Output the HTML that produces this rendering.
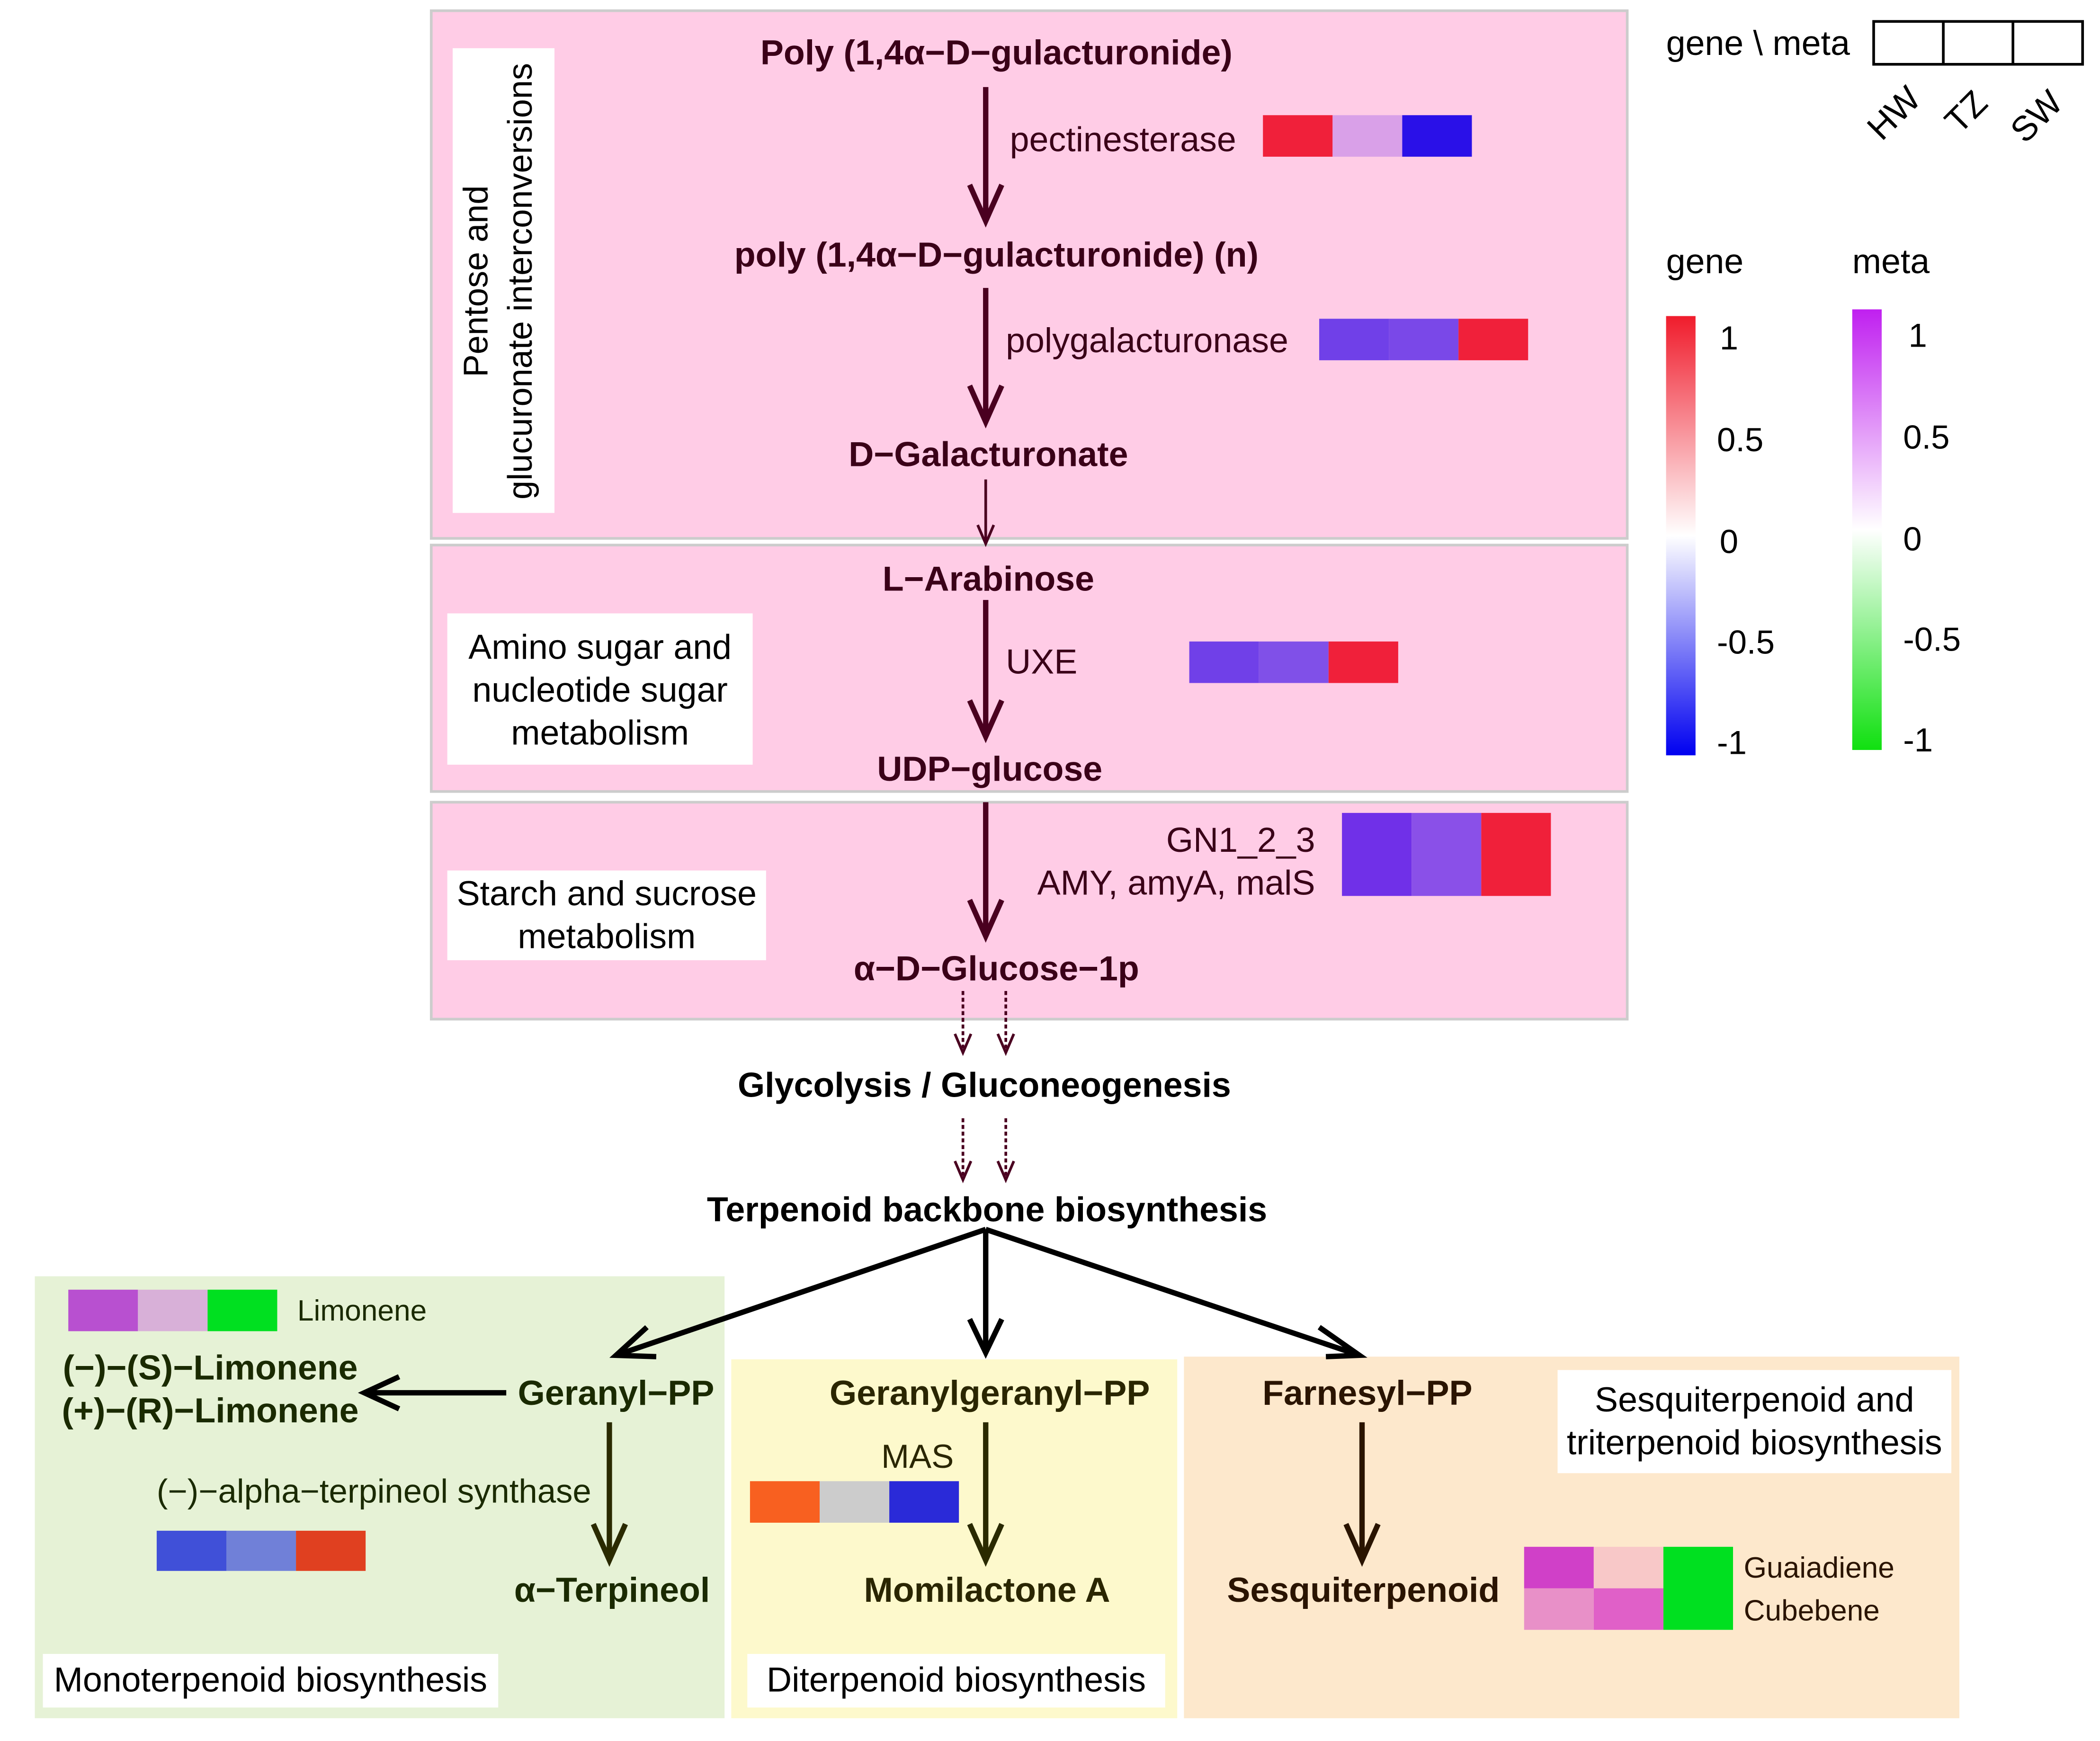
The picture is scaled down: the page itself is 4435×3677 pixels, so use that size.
<!DOCTYPE html>
<html><head><meta charset="utf-8"><style>
html,body{margin:0;padding:0;background:#fff;}
svg{display:block;}
text{font-family:"Liberation Sans",Arial,sans-serif;}
</style></head><body>
<svg width="4435" height="3677" viewBox="0 0 1568 1300" xmlns="http://www.w3.org/2000/svg">
<defs>
<linearGradient id="gg" x1="0" y1="0" x2="0" y2="1">
<stop offset="0" stop-color="#f01c2c"/><stop offset="0.5" stop-color="#ffffff"/><stop offset="1" stop-color="#0000f0"/></linearGradient>
<linearGradient id="mg" x1="0" y1="0" x2="0" y2="1">
<stop offset="0" stop-color="#c020f0"/><stop offset="0.5" stop-color="#ffffff"/><stop offset="1" stop-color="#10e010"/></linearGradient>
</defs>
<rect x="322" y="8" width="893" height="394" fill="#ffcce6" stroke="#cccccc" stroke-width="2"/>
<rect x="322" y="407" width="893" height="184" fill="#ffcce6" stroke="#cccccc" stroke-width="2"/>
<rect x="322" y="599" width="893" height="162" fill="#ffcce6" stroke="#cccccc" stroke-width="2"/>
<rect x="26" y="953" width="515" height="330" fill="#e6f2d6"/>
<rect x="546" y="1015" width="333" height="268" fill="#fdf9cc"/>
<rect x="884" y="1013" width="579" height="270" fill="#fde8cc"/>
<rect x="338" y="36" width="76" height="347" fill="#fff"/>
<text transform="translate(364,210) rotate(-90)" text-anchor="middle" font-size="25.5">Pentose and</text>
<text transform="translate(397,210) rotate(-90)" text-anchor="middle" font-size="25.5">glucuronate interconversions</text>
<rect x="334" y="458" width="228" height="113" fill="#fff"/>
<text x="448" y="492" text-anchor="middle" font-size="26">Amino sugar and</text>
<text x="448" y="524" text-anchor="middle" font-size="26">nucleotide sugar</text>
<text x="448" y="556" text-anchor="middle" font-size="26">metabolism</text>
<rect x="334" y="650" width="238" height="67" fill="#fff"/>
<text x="453" y="676" text-anchor="middle" font-size="26">Starch and sucrose</text>
<text x="453" y="708" text-anchor="middle" font-size="26">metabolism</text>
<rect x="32" y="1235" width="340" height="40" fill="#fff"/>
<text x="202" y="1263" text-anchor="middle" font-size="26">Monoterpenoid biosynthesis</text>
<rect x="558" y="1235" width="312" height="40" fill="#fff"/>
<text x="714" y="1263" text-anchor="middle" font-size="26">Diterpenoid biosynthesis</text>
<rect x="1163" y="1023" width="294" height="77" fill="#fff"/>
<text x="1310" y="1054" text-anchor="middle" font-size="26">Sesquiterpenoid and</text>
<text x="1310" y="1086" text-anchor="middle" font-size="26">triterpenoid biosynthesis</text>
<g font-weight="bold" font-size="26" fill="#3a0018" text-anchor="middle">
<text x="744" y="48">Poly (1,4α−D−gulacturonide)</text>
<text x="744" y="199">poly (1,4α−D−gulacturonide) (n)</text>
<text x="738" y="348">D−Galacturonate</text>
<text x="738" y="441">L−Arabinose</text>
<text x="739" y="583">UDP−glucose</text>
<text x="744" y="732">α−D−Glucose−1p</text>
</g>
<g font-weight="bold" font-size="26" fill="#000" text-anchor="middle">
<text x="735" y="819">Glycolysis / Gluconeogenesis</text>
<text x="737" y="912">Terpenoid backbone biosynthesis</text>
</g>
<g font-weight="bold" font-size="26" fill="#1a2a00" text-anchor="middle">
<text x="460" y="1049">Geranyl−PP</text>
<text x="157" y="1030">(−)−(S)−Limonene</text>
<text x="157" y="1062">(+)−(R)−Limonene</text>
<text x="457" y="1196">α−Terpineol</text>
</g>
<g font-weight="bold" font-size="26" fill="#2a2600" text-anchor="middle">
<text x="739" y="1049">Geranylgeranyl−PP</text>
<text x="737" y="1196">Momilactone A</text>
</g>
<g font-weight="bold" font-size="26" fill="#2a1400" text-anchor="middle">
<text x="1021" y="1049">Farnesyl−PP</text>
<text x="1018" y="1196">Sesquiterpenoid</text>
</g>
<g font-size="26" fill="#3a0018">
<text x="754" y="113">pectinesterase</text>
<text x="751" y="263">polygalacturonase</text>
<text x="751" y="503">UXE</text>
<text x="982" y="636" text-anchor="end">GN1_2_3</text>
<text x="982" y="668" text-anchor="end">AMY, amyA, malS</text>
</g>
<text x="222" y="986" font-size="22" fill="#1a2a00">Limonene</text>
<text x="117" y="1122" font-size="25" fill="#1a2a00">(−)−alpha−terpineol synthase</text>
<text x="658" y="1096" font-size="25" fill="#2a2600">MAS</text>
<text x="1302" y="1178" font-size="22" fill="#2a1400">Guaiadiene</text>
<text x="1302" y="1210" font-size="22" fill="#2a1400">Cubebene</text>
<rect x="943" y="86" width="52" height="31" fill="#f0203a"/><rect x="995" y="86" width="52" height="31" fill="#d9a0e8"/><rect x="1047" y="86" width="52" height="31" fill="#2a10e8"/>
<rect x="985" y="238" width="52" height="31" fill="#7040e8"/><rect x="1037" y="238" width="52" height="31" fill="#7a48e8"/><rect x="1089" y="238" width="52" height="31" fill="#f0203a"/>
<rect x="888" y="479" width="52" height="31" fill="#7040e8"/><rect x="940" y="479" width="52" height="31" fill="#8050e8"/><rect x="992" y="479" width="52" height="31" fill="#f0203a"/>
<rect x="1002" y="607" width="52" height="62" fill="#7030e8"/><rect x="1054" y="607" width="52" height="62" fill="#8a50e8"/><rect x="1106" y="607" width="52" height="62" fill="#f0203a"/>
<rect x="51" y="963" width="52" height="31" fill="#b850d0"/><rect x="103" y="963" width="52" height="31" fill="#d8b0d8"/><rect x="155" y="963" width="52" height="31" fill="#00e020"/>
<rect x="117" y="1143" width="52" height="30" fill="#4050d8"/><rect x="169" y="1143" width="52" height="30" fill="#7080d8"/><rect x="221" y="1143" width="52" height="30" fill="#e04020"/>
<rect x="560" y="1106" width="52" height="31" fill="#f86020"/><rect x="612" y="1106" width="52" height="31" fill="#cccccc"/><rect x="664" y="1106" width="52" height="31" fill="#2a2ad8"/>
<rect x="1138" y="1155" width="52" height="31" fill="#d040c8"/><rect x="1190" y="1155" width="52" height="31" fill="#f8c8c8"/><rect x="1242" y="1155" width="52" height="62" fill="#00e020"/>
<rect x="1138" y="1186" width="52" height="31" fill="#e890c8"/><rect x="1190" y="1186" width="52" height="31" fill="#e060c8"/>
<g stroke="#4a0020" fill="none" stroke-width="4">
<line x1="736" y1="65" x2="736" y2="163"/><polyline points="724,138 736,165 748,138"/>
<line x1="736" y1="215" x2="736" y2="313"/><polyline points="724,288 736,315 748,288"/>
<line x1="736" y1="448" x2="736" y2="548"/><polyline points="724,523 736,550 748,523"/>
<line x1="736" y1="599" x2="736" y2="697"/><polyline points="724,672 736,699 748,672"/>
<line x1="736" y1="358" x2="736" y2="405" stroke-width="2"/><polyline points="730,392 736,406 742,392" stroke-width="2"/>
</g>
<g stroke="#4a0020" fill="none" stroke-width="2">
<line x1="719" y1="740" x2="719" y2="784" stroke-dasharray="3,2"/><polyline points="713,772 719,786 725,772"/>
<line x1="751" y1="740" x2="751" y2="784" stroke-dasharray="3,2"/><polyline points="745,772 751,786 757,772"/>
<line x1="719" y1="835" x2="719" y2="879" stroke-dasharray="3,2"/><polyline points="713,867 719,881 725,867"/>
<line x1="751" y1="835" x2="751" y2="879" stroke-dasharray="3,2"/><polyline points="745,867 751,881 757,867"/>
</g>
<g stroke="#000" fill="none" stroke-width="4">
<line x1="736" y1="918" x2="736" y2="1008"/><polyline points="724,985 736,1010 748,985"/>
<line x1="736" y1="918" x2="460" y2="1012"/><polyline points="483,991 460,1012 490,1013"/>
<line x1="736" y1="918" x2="1015" y2="1012"/><polyline points="985,991 1015,1012 990,1013"/>
<line x1="378" y1="1040" x2="272" y2="1040"/><polyline points="298,1028 272,1040 298,1052"/>
</g>
<g stroke="#2a2a00" fill="none" stroke-width="4">
<line x1="455" y1="1062" x2="455" y2="1163"/><polyline points="443,1138 455,1165 467,1138"/>
<line x1="736" y1="1062" x2="736" y2="1163"/><polyline points="724,1138 736,1165 748,1138"/>
</g>
<g stroke="#2a1400" fill="none" stroke-width="4">
<line x1="1017" y1="1062" x2="1017" y2="1163"/><polyline points="1005,1138 1017,1165 1029,1138"/>
</g>
<text x="1244" y="41" font-size="26">gene \ meta</text>
<rect x="1399" y="16" width="156" height="32" fill="#fff" stroke="#000" stroke-width="2"/>
<line x1="1451" y1="16" x2="1451" y2="48" stroke="#000" stroke-width="2"/>
<line x1="1503" y1="16" x2="1503" y2="48" stroke="#000" stroke-width="2"/>
<text transform="translate(1405,106) rotate(-45)" font-size="26">HW</text>
<text transform="translate(1463,101) rotate(-45)" font-size="26">TZ</text>
<text transform="translate(1512,108) rotate(-45)" font-size="26">SW</text>
<text x="1244" y="204" font-size="26">gene</text>
<text x="1383" y="204" font-size="26">meta</text>
<rect x="1244" y="236" width="22" height="328" fill="url(#gg)"/>
<rect x="1383" y="231" width="22" height="329" fill="url(#mg)"/>
<g font-size="25">
<text x="1284" y="261">1</text><text x="1282" y="337">0.5</text><text x="1284" y="413">0</text><text x="1282" y="488">-0.5</text><text x="1282" y="563">-1</text>
<text x="1425" y="259">1</text><text x="1421" y="335">0.5</text><text x="1421" y="411">0</text><text x="1421" y="486">-0.5</text><text x="1421" y="561">-1</text>
</g>
</svg>
</body></html>
